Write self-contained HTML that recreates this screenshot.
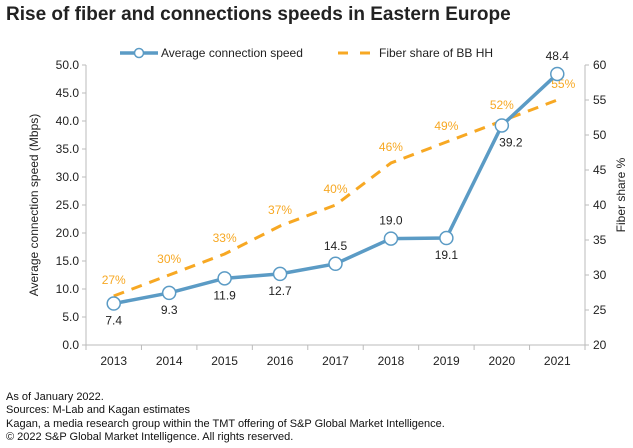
<!DOCTYPE html>
<html><head><meta charset="utf-8"><style>
body{margin:0;width:633px;height:448px;background:#fff;font-family:"Liberation Sans",sans-serif;overflow:hidden;position:relative}
#title{position:absolute;left:6px;top:4px;font-size:19px;font-weight:bold;color:#222}
.foot{position:absolute;left:6px;font-size:11px;color:#111}
</style></head><body>
<div id="title">Rise of fiber and connections speeds in Eastern Europe</div>
<svg id="chart" width="633" height="390" style="position:absolute;left:0;top:0" font-family="Liberation Sans, sans-serif"></svg>
<div class="foot" style="top:391px">As of January 2022.</div>
<div class="foot" style="top:404px">Sources: M-Lab and Kagan estimates</div>
<div class="foot" style="top:418px">Kagan, a media research group within the TMT offering of S&amp;P Global Market Intelligence.</div>
<div class="foot" style="top:431px">© 2022 S&amp;P Global Market Intelligence. All rights reserved.</div>
<script>
const categories=["2013","2014","2015","2016","2017","2018","2019","2020","2021"];
const speed=[7.4,9.3,11.9,12.7,14.5,19.0,19.1,39.2,48.4];
const fiber=[27,30,33,37,40,46,49,52,55];
const leftTicks=[0,5,10,15,20,25,30,35,40,45,50];
const rightTicks=[20,25,30,35,40,45,50,55,60];
const speedLabelAbove=[false,false,false,false,true,true,false,false,true];

const svg=document.getElementById('chart');
const NS='http://www.w3.org/2000/svg';
const L=86,R=585,T=65,B=345;
const band=(R-L)/categories.length;
const x=i=>L+band*(i+0.5);
const yL=v=>B-(v-0)/(50-0)*(B-T);
const yR=v=>B-(v-20)/(60-20)*(B-T);
function mk(tag,attrs,text){const e=document.createElementNS(NS,tag);for(const k in attrs)e.setAttribute(k,attrs[k]);if(text!==undefined)e.textContent=text;svg.appendChild(e);return e;}

let a=mk('line',{x1:L,y1:T,x2:L,y2:B,stroke:'#bbb'});

a=mk('line',{x1:R,y1:T,x2:R,y2:B,stroke:'#bbb'});

a=mk('line',{x1:L,y1:B,x2:R,y2:B,stroke:'#bbb'});

leftTicks.forEach(v=>{
  const t=mk('line',{x1:L-4,y1:yL(v),x2:L,y2:yL(v),stroke:'#bbb'});
  
  const l=mk('text',{x:L-7,y:yL(v)+4,'text-anchor':'end','font-size':12,fill:'#222'},v.toFixed(1));
  
});
rightTicks.forEach(v=>{
  const t=mk('line',{x1:R,y1:yR(v),x2:R+4,y2:yR(v),stroke:'#bbb'});
  
  const l=mk('text',{x:R+8,y:yR(v)+4,'font-size':12,fill:'#222'},String(v));
  
});
for(let i=0;i<=categories.length;i++){
  const t=mk('line',{x1:L+band*i,y1:B,x2:L+band*i,y2:B+5,stroke:'#bbb'});
  
}
categories.forEach((c,i)=>{
  const l=mk('text',{x:x(i),y:B+20,'text-anchor':'middle','font-size':12,fill:'#222'},c);
  
});
let yt=mk('text',{transform:`translate(38,${(T+B)/2}) rotate(-90)`,'text-anchor':'middle','font-size':12,fill:'#222'},'Average connection speed (Mbps)');

yt=mk('text',{transform:`translate(625,${(T+B)/2-10}) rotate(-90)`,'text-anchor':'middle','font-size':12,fill:'#222'},'Fiber share %');


const fl=mk('polyline',{points:fiber.map((v,i)=>x(i)+','+yR(v)).join(' '),fill:'none',stroke:'#f7a823','stroke-width':3,'stroke-dasharray':'11,8'});

fiber.forEach((v,i)=>{
  const l=mk('text',{x:x(i)+(i==8?6:0),y:yR(v)-12,'text-anchor':'middle','font-size':12,fill:'#f7a823'},v+'%');
  
});
const sl=mk('polyline',{points:speed.map((v,i)=>x(i)+','+yL(v)).join(' '),fill:'none',stroke:'#5b9bc5','stroke-width':3.5});

speed.forEach((v,i)=>{
  const c=mk('circle',{cx:x(i),cy:yL(v),r:6.5,fill:'#fff',stroke:'#5b9bc5','stroke-width':1.5});
  
  const ly=speedLabelAbove[i]?yL(v)-14:yL(v)+21;
  const l=mk('text',{x:x(i)+(i==7?9:0),y:ly,'text-anchor':'middle','font-size':12,fill:'#222'},v.toFixed(1));
  
});
let g=mk('line',{x1:120,y1:53,x2:158,y2:53,stroke:'#5b9bc5','stroke-width':3.5});

g=mk('circle',{cx:139,cy:53,r:4.5,fill:'#fff',stroke:'#5b9bc5','stroke-width':1.5});

g=mk('text',{x:161,y:57,'font-size':12,fill:'#222'},'Average connection speed');

g=mk('line',{x1:338,y1:53,x2:376,y2:53,stroke:'#f7a823','stroke-width':3,'stroke-dasharray':'10,12'});

g=mk('text',{x:379,y:57,'font-size':12,fill:'#222'},'Fiber share of BB HH');

</script>
</body></html>
